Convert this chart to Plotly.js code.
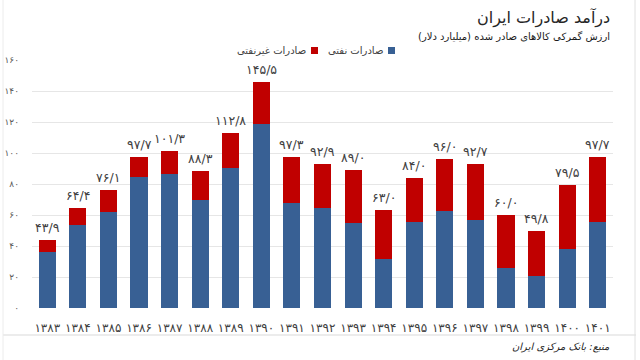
<!DOCTYPE html>
<html>
<head>
<meta charset="utf-8">
<script src="https://cdn.plot.ly/plotly-3.0.1.min.js"></script>
<style>html,body{margin:0;padding:0;background:#fff;}#chart{width:640px;height:360px;}</style>
</head>
<body>
<div id="chart"></div>
<script>
const years = ['۱۳۸۳','۱۳۸۴','۱۳۸۵','۱۳۸۶','۱۳۸۷','۱۳۸۸','۱۳۸۹','۱۳۹۰','۱۳۹۱','۱۳۹۲','۱۳۹۳','۱۳۹۴','۱۳۹۵','۱۳۹۶','۱۳۹۷','۱۳۹۸','۱۳۹۹','۱۴۰۰','۱۴۰۱'];
const oilExports = [36.3, 53.5, 61.7, 84.7, 86.5, 69.7, 90.1, 118.7, 67.5, 64.5, 55.0, 31.4, 55.3, 62.6, 56.8, 25.6, 20.6, 38.3, 55.3];
const nonOilExports = [7.6, 10.9, 14.4, 13.0, 14.8, 18.6, 22.7, 26.8, 29.8, 28.4, 34.0, 31.6, 28.7, 33.4, 35.9, 34.4, 29.2, 41.2, 42.4];
const totals = [43.9, 64.4, 76.1, 97.7, 101.3, 88.3, 112.8, 145.5, 97.3, 92.9, 89.0, 63.0, 84.0, 96.0, 92.7, 60.0, 49.8, 79.5, 97.7];
const totalLabels = ['۴۳/۹','۶۴/۴','۷۶/۱','۹۷/۷','۱۰۱/۳','۸۸/۳','۱۱۲/۸','۱۴۵/۵','۹۷/۳','۹۲/۹','۸۹/۰','۶۳/۰','۸۴/۰','۹۶/۰','۹۲/۷','۶۰/۰','۴۹/۸','۷۹/۵','۹۷/۷'];
const yTickVals = [0, 20, 40, 60, 80, 100, 120, 140, 160];
const yTickText = ['۰','۲۰','۴۰','۶۰','۸۰','۱۰۰','۱۲۰','۱۴۰','۱۶۰'];

const FONT = 'DejaVu Sans, sans-serif';
const BLUE = '#386094';
const RED = '#C00000';

// plot area in pixels: x 32..613, y 60..308
const L = 32, R = 613, T = 60, B = 308;
const px = x => (x - L) / (R - L);
const py = y => (B - y) / (B - T);

const traces = [
  {type: 'bar', x: years, y: oilExports, marker: {color: BLUE}, width: 0.56, name: 'صادرات نفتی', hoverinfo: 'skip'},
  {type: 'bar', x: years, y: nonOilExports, marker: {color: RED}, width: 0.56, name: 'صادرات غیرنفتی', hoverinfo: 'skip'}
];

const valueAnnotations = years.map((yr, i) => ({
  x: yr, y: totals[i], xref: 'x', yref: 'y', text: totalLabels[i], showarrow: false,
  xanchor: 'center', yanchor: 'bottom', yshift: 3,
  font: {family: FONT, size: 12.5, color: '#404040'}
}));

const layout = {
  width: 640, height: 360,
  margin: {l: L, r: 640 - R, t: T, b: 360 - B},
  paper_bgcolor: '#ffffff', plot_bgcolor: '#ffffff',
  barmode: 'stack',
  showlegend: false,
  font: {family: FONT},
  xaxis: {type: 'category', showgrid: false, zeroline: false, showline: false, ticks: '',
          tickfont: {family: FONT, size: 12, color: '#404040'}, ticklabelstandoff: 11, fixedrange: true},
  yaxis: {range: [0, 160], tickvals: yTickVals, ticktext: yTickText, showgrid: true, gridcolor: '#e6e6e6', gridwidth: 1,
          zeroline: false, showline: false, ticks: '', tickfont: {family: FONT, size: 9, color: '#595959'},
          ticklabelstandoff: 12, fixedrange: true},
  annotations: [
    {xref: 'paper', yref: 'paper', x: px(612), y: py(18), xanchor: 'right', yanchor: 'middle', showarrow: false,
     text: 'درآمد صادرات ایران', font: {family: FONT, size: 16, color: '#262626'}},
    {xref: 'paper', yref: 'paper', x: px(612), y: py(36), xanchor: 'right', yanchor: 'middle', showarrow: false,
     text: 'ارزش گمرکی کالاهای صادر شده (میلیارد دلار)', font: {family: FONT, size: 10, color: '#1a1a1a'}},
    {xref: 'paper', yref: 'paper', x: px(385), y: py(50), xanchor: 'right', yanchor: 'middle', showarrow: false,
     text: 'صادرات نفتی', font: {family: FONT, size: 10, color: '#404040'}},
    {xref: 'paper', yref: 'paper', x: px(308), y: py(50), xanchor: 'right', yanchor: 'middle', showarrow: false,
     text: 'صادرات غیرنفتی', font: {family: FONT, size: 10, color: '#404040'}},
    {xref: 'paper', yref: 'paper', x: px(612), y: py(347), xanchor: 'right', yanchor: 'middle', showarrow: false,
     text: '<i>منبع: بانک مرکزی ایران</i>', font: {family: FONT, size: 10, color: '#262626'}}
  ].concat(valueAnnotations),
  shapes: [
    {type: 'rect', xref: 'paper', yref: 'paper', x0: px(388), x1: px(395), y0: py(54), y1: py(47), fillcolor: BLUE, line: {width: 0}},
    {type: 'rect', xref: 'paper', yref: 'paper', x0: px(311), x1: px(318), y0: py(54), y1: py(47), fillcolor: RED, line: {width: 0}},
    {type: 'line', xref: 'paper', yref: 'paper', x0: px(3), x1: px(636), y0: py(335), y1: py(335), line: {color: '#d9d9d9', width: 1}},
    {type: 'line', xref: 'paper', yref: 'paper', x0: px(3), x1: px(3), y0: py(0), y1: py(360), line: {color: '#ececec', width: 1}},
    {type: 'line', xref: 'paper', yref: 'paper', x0: px(635), x1: px(635), y0: py(0), y1: py(360), line: {color: '#e0e0e0', width: 1}}
  ]
};

Plotly.newPlot('chart', traces, layout, {staticPlot: true, displayModeBar: false});
</script>
</body>
</html>
